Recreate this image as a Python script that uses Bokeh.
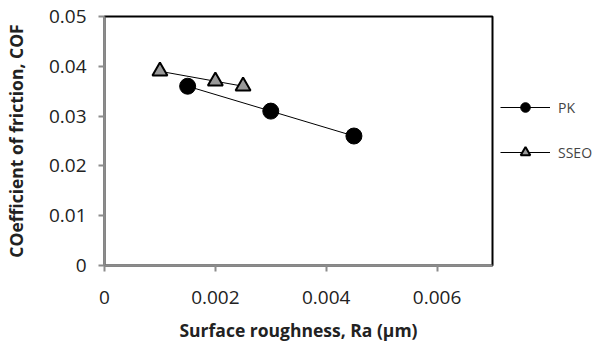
from bokeh.plotting import figure
from bokeh.models import Range1d, FixedTicker, Legend, LegendItem
from bokeh.embed import file_html
from bokeh.resources import INLINE

pk_x = [0.0015, 0.003, 0.0045]
pk_y = [0.036, 0.031, 0.026]
sseo_x = [0.001, 0.002, 0.0025]
sseo_y = [0.039, 0.037, 0.036]

x_ticks = [0, 0.002, 0.004, 0.006]
x_tick_labels = ["0", "0.002", "0.004", "0.006"]
y_ticks = [0, 0.01, 0.02, 0.03, 0.04, 0.05]
y_tick_labels = ["0", "0.01", "0.02", "0.03", "0.04", "0.05"]

FONT = "Open Sans"

p = figure(frame_width=388, frame_height=249, output_backend="svg", toolbar_location=None,
           x_range=Range1d(0, 0.007), y_range=Range1d(0, 0.05),
           min_border_left=104, min_border_right=0, min_border_top=16, min_border_bottom=81)
p.xgrid.visible = False
p.ygrid.visible = False
p.outline_line_color = "black"
p.outline_line_width = 2

p.xaxis.ticker = FixedTicker(ticks=x_ticks)
p.xaxis.major_label_overrides = {t: l for t, l in zip(x_ticks, x_tick_labels)}
p.yaxis.ticker = FixedTicker(ticks=y_ticks)
p.yaxis.major_label_overrides = {t: l for t, l in zip(y_ticks, y_tick_labels)}

for ax in (p.xaxis, p.yaxis):
    ax.axis_line_color = "#8c8c8c"
    ax.axis_line_width = 2
    ax.major_tick_line_color = "#8c8c8c"
    ax.major_tick_line_width = 2
    ax.major_tick_out = 6
    ax.major_tick_in = 0
    ax.minor_tick_line_color = None
    ax.major_label_text_font = FONT
    ax.major_label_text_font_size = "19px"
    ax.major_label_text_color = "#222222"
    ax.axis_label_text_font = FONT
    ax.axis_label_text_font_size = "17.5px"
    ax.axis_label_text_font_style = "bold"
    ax.axis_label_text_color = "#222222"

p.xaxis.axis_label = "Surface roughness, Ra (µm)"
p.yaxis.axis_label = "COefficient of friction, COF"
p.xaxis.major_label_standoff = 19
p.yaxis.major_label_standoff = 12
p.xaxis.axis_label_standoff = 11
p.yaxis.axis_label_standoff = 18

l1 = p.line(pk_x, pk_y, line_color="black", line_width=1)
m1 = p.scatter(pk_x, pk_y, marker="circle", size=16, fill_color="black", line_color="black")
l2 = p.line(sseo_x, sseo_y, line_color="black", line_width=1)
m2 = p.scatter(sseo_x, sseo_y, marker="triangle", size=15, fill_color="#999999",
               line_color="black", line_width=2)

legend = Legend(items=[LegendItem(label="PK", renderers=[l1, m1]),
                       LegendItem(label="SSEO", renderers=[l2, m2])],
                location=(8, 101), border_line_color=None, background_fill_alpha=0,
                label_text_font=FONT, label_text_font_size="14px",
                glyph_width=50, glyph_height=24, spacing=21, padding=0, margin=0,
                label_standoff=8)
p.add_layout(legend, "right")

open("out.html", "w").write(file_html(p, INLINE))
